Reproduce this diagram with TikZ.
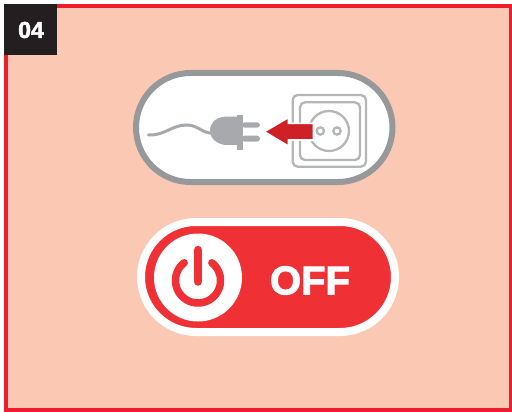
\documentclass[tikz,border=0pt]{standalone}
\usepackage{fontspec}
\setmainfont{Liberation Sans}
\newfontfamily\heavyfont[FakeBold=2.5]{Liberation Sans Bold}
\definecolor{peach}{HTML}{FBC9B3}
\definecolor{framered}{HTML}{ED1C2E}
\definecolor{pillgray}{HTML}{96989A}
\definecolor{pluggray}{HTML}{A7A9AC}
\definecolor{sockgray}{HTML}{B4B6B8}
\definecolor{arrowred}{HTML}{CE2027}
\definecolor{offred}{HTML}{EF3035}
\definecolor{tagblack}{HTML}{231F20}
\tikzset{
  sockline/.style={draw=sockgray,line width=2.3pt},
  plugpart/.style={fill=pluggray,draw=none},
  taglabel/.style={text=white,font=\heavyfont\fontsize{23}{23}\selectfont,inner sep=0pt},
  offlabel/.style={text=white,font=\heavyfont\fontsize{40}{40}\selectfont,inner sep=0pt},
  zoomA/.style={x=0.3333pt,y=-0.3333pt,shift={(130pt,-65pt)}}
}
\begin{document}
\begin{tikzpicture}[x=1pt,y=-1pt]
\useasboundingbox (0,0) rectangle (512,412);
\fill[white] (0,0) rectangle (512,412);
% frame
\draw[fill=peach,draw=framered,line width=4pt] (6,6) rectangle (510.5,410);
% tag
\fill[tagblack] (4,4) rectangle (57,55);
\node[taglabel] (tag) at (31,30) {04};
% top pill
\draw[fill=white,draw=pillgray,line width=6pt,rounded corners=54.5pt] (136,73) rectangle (392.5,182);
\begin{scope}[zoomA]
  % cord
  \draw[pluggray,line width=3pt,line cap=round] (55,210) .. controls (105,212) and (125,180) .. (170,180) .. controls (205,180) and (215,205) .. (250,205);
  % plug body
  \path[plugpart] (322,155) -- (285,155) .. controls (255,158) and (240,175) .. (240,197) .. controls (240,222) and (265,240) .. (290,240) -- (322,240) -- cycle;
  \path[plugpart] (322,150) rectangle (340,255);
  \path[plugpart,rounded corners=3pt] (335,172) rectangle (390,188);
  \path[plugpart,rounded corners=3pt] (335,212) rectangle (390,230);
  % socket
  \draw[sockline,rounded corners=5pt] (488,90) rectangle (708,305);
  \draw[sockline,rounded corners=5pt] (510,112) rectangle (690,285);
  \draw[sockline] (597,198) circle[radius=60];
  \draw[sockline] (571,198) circle[radius=11];
  \draw[sockline] (621,198) circle[radius=11];
  % arrow
  \draw[fill=arrowred,draw=white,line width=1.6pt,line join=miter]
    (403,200) -- (475,158) -- (475,175) -- (550,175) -- (550,225) -- (475,225) -- (475,243) -- cycle;
\end{scope}
% bottom pill
\draw[fill=offred,draw=white,line width=8pt,rounded corners=55pt] (141,222) rectangle (395,332);
\fill[white] (198,277.5) circle[radius=44];
\draw[offred,line width=7.5pt,line cap=round] plot[domain=232:-52,samples=80] ({198+22.5*cos(\x)},{280.5+22.5*sin(\x)});
\draw[offred,line width=8.5pt,line cap=round] (198,250) -- (198,281.5);
\node[offlabel] (off) at (310,280.5) {OFF};
\end{tikzpicture}
\end{document}
